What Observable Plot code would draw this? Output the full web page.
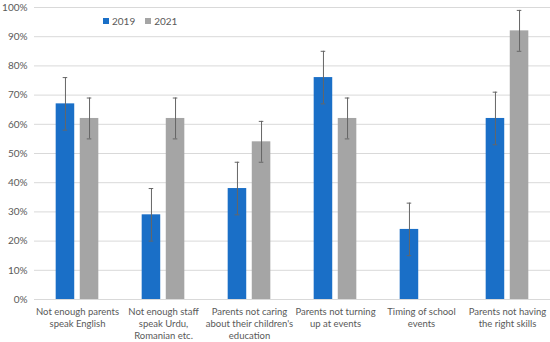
<!DOCTYPE html>
<html><head><meta charset="utf-8">
<script src="https://cdn.jsdelivr.net/npm/d3@7"></script>
<script src="https://cdn.jsdelivr.net/npm/@observablehq/plot@0.6"></script>
<style>
body{margin:0;background:#fff;font-family:Lato,"Open Sans",sans-serif;}
#wrap{position:relative;width:550px;height:342px;}
#legend{position:absolute;left:103px;top:15px;font-size:10px;color:#595959;display:flex;align-items:center;font-family:Lato,"Open Sans",sans-serif;}
.sw{display:inline-block;width:6px;height:6px;margin-right:3px;}
.item{display:flex;align-items:center;margin-right:10px;}
</style></head><body>
<div id="wrap"><div id="legend"></div></div>
<script>
const categories = [
  "Not enough parents\nspeak English",
  "Not enough staff\nspeak Urdu,\nRomanian etc.",
  "Parents not caring\nabout their children's\neducation",
  "Parents not turning\nup at events",
  "Timing of school\nevents",
  "Parents not having\nthe right skills"
];
const series = ["2019", "2021"];
const values2019 = [0.67, 0.29, 0.38, 0.76, 0.24, 0.62];
const values2021 = [0.62, 0.62, 0.54, 0.62, null, 0.92];
const err2019 = [0.09, 0.09, 0.09, 0.09, 0.09, 0.09];
const err2021 = [0.07, 0.07, 0.07, 0.07, null, 0.07];
const yTicks = [0, 0.1, 0.2, 0.3, 0.4, 0.5, 0.6, 0.7, 0.8, 0.9, 1.0];
const colors = ["#1a6fc7", "#a5a5a5"];

const rows = [];
categories.forEach((c, i) => {
  rows.push({category: c, series: series[0], value: values2019[i], err: err2019[i]});
  rows.push({category: c, series: series[1], value: values2021[i], err: err2021[i]});
});
const valid = d => d.value != null;
const errColor = "#666666";

const chart = Plot.plot({
  width: 550,
  height: 342,
  marginLeft: 34,
  marginRight: 0,
  marginTop: 7,
  marginBottom: 43,
  style: {fontFamily: 'Lato, "Open Sans", sans-serif', color: "#595959", background: "#fff", overflow: "visible"},
  fx: {domain: categories, padding: 0, label: null, axis: null},
  x: {domain: series, paddingInner: 0.23, paddingOuter: 0.9, axis: null, round: false},
  y: {domain: [0, 1], axis: null},
  color: {domain: series, range: colors},
  marks: [
    Plot.ruleY(yTicks, {stroke: "#d9d9d9", strokeWidth: 1}),
    Plot.barY(rows, {fx: "category", x: "series", y: "value", fill: "series", filter: valid}),
    Plot.ruleX(rows, {fx: "category", x: "series", filter: valid, y1: d => d.value - d.err, y2: d => d.value + d.err, stroke: errColor, strokeWidth: 1}),
    Plot.tickY(rows, {fx: "category", x: "series", filter: valid, y: d => d.value - d.err, insetLeft: 7, insetRight: 7, stroke: errColor}),
    Plot.tickY(rows, {fx: "category", x: "series", filter: valid, y: d => d.value + d.err, insetLeft: 7, insetRight: 7, stroke: errColor}),
    Plot.axisY(yTicks, {tickFormat: d3.format(".0%"), tickSize: 0, tickPadding: 7, fontSize: 10, label: null}),
    Plot.text(categories, {fx: d => d, text: d => d, frameAnchor: "bottom", lineAnchor: "top", dy: 7, fontSize: 9.5, lineHeight: 1.25, fill: "#595959"})
  ]
});
document.getElementById("wrap").prepend(chart);

const legend = document.getElementById("legend");
series.forEach((s, i) => {
  const it = document.createElement("span");
  it.className = "item";
  const sw = document.createElement("span");
  sw.className = "sw";
  sw.style.background = colors[i];
  it.appendChild(sw);
  it.appendChild(document.createTextNode(s));
  legend.appendChild(it);
});
</script>
</body></html>
